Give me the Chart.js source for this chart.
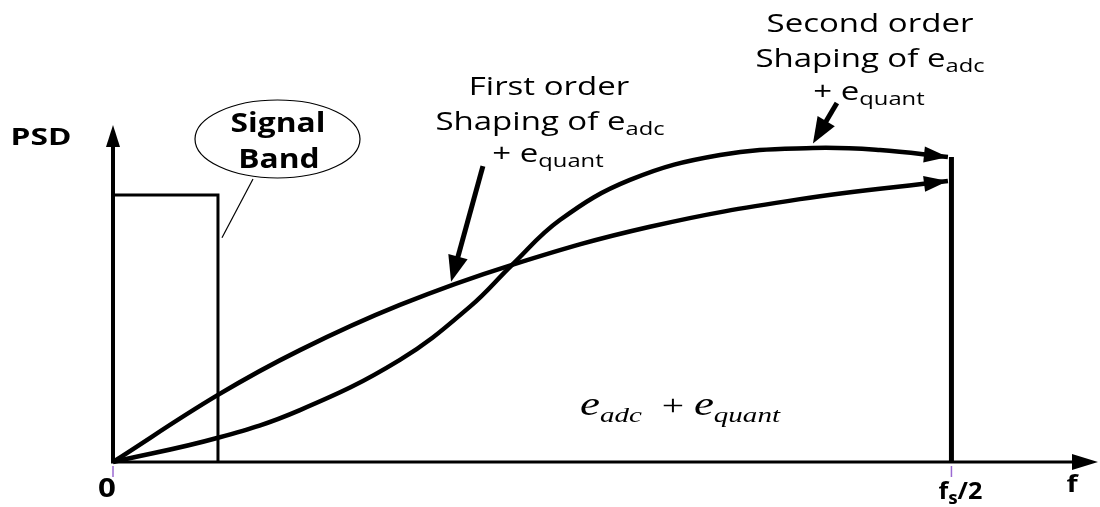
<!DOCTYPE html>
<html>
<head>
<meta charset="utf-8">
<script src="https://cdn.jsdelivr.net/npm/chart.js@4"></script>
<style>
  html, body { margin: 0; padding: 0; background: #fff; }
  #wrap { width: 1100px; height: 507px; position: relative; }
</style>
</head>
<body>
<div id="wrap"><canvas id="psdChart"></canvas></div>
<script>
// normalised frequency f/fs, PSD in arbitrary units (1 = top of the PSD axis)
const freqFirst  = [0, 0.0626, 0.1115, 0.1711, 0.2380, 0.3202, 0.4097, 0.4979];
const psdFirst   = [0, 0.199, 0.332, 0.466, 0.585, 0.698, 0.780, 0.834];
const freqSecond = [0, 0.0626, 0.1115, 0.1711, 0.2129, 0.2380, 0.2665, 0.3083, 0.3620, 0.4174, 0.4574, 0.4979];
const psdSecond  = [0, 0.072, 0.154, 0.303, 0.461, 0.585, 0.718, 0.837, 0.911, 0.932, 0.926, 0.905];
const bandEdge = 0.0626, bandLevel = 0.792;
const nyquist = 0.5, nyquistLevel = 0.905;
// callout arrows: [f, psd] tail -> head
const calloutFirst  = [[0.2206, 0.878], [0.2016, 0.535]];
const calloutSecond = [[0.4317, 1.065], [0.4174, 0.945]];

const pts = (xs, ys) => xs.map((x, i) => ({ x: x, y: ys[i] }));

function arrowHead(ctx, x0, y0, x1, y1, len, half) {
  const a = Math.atan2(y1 - y0, x1 - x0);
  ctx.beginPath();
  ctx.moveTo(x1, y1);
  ctx.lineTo(x1 - len * Math.cos(a) + half * Math.sin(a), y1 - len * Math.sin(a) - half * Math.cos(a));
  ctx.lineTo(x1 - len * Math.cos(a) - half * Math.sin(a), y1 - len * Math.sin(a) + half * Math.cos(a));
  ctx.closePath();
  ctx.fill();
}

// draws a centred line made of runs [text, font, dy], stretched sideways by sx
function textRuns(ctx, parts, cx, y, sx) {
  sx = sx || 1.32;
  let w = 0;
  parts.forEach(p => { ctx.font = p[1]; w += ctx.measureText(p[0]).width; });
  ctx.save();
  ctx.translate(cx, y);
  ctx.scale(sx, 1);
  let x = -w / 2;
  parts.forEach(p => {
    ctx.font = p[1];
    ctx.fillText(p[0], x, p[2]);
    x += ctx.measureText(p[0]).width;
  });
  ctx.restore();
}

const sans = '25px "Open Sans"', sansSub = '18px "Open Sans"';
const bold = 'bold 24px "Open Sans"';

const diagram = {
  id: 'diagram',
  afterDatasetsDraw(chart) {
    const ctx = chart.ctx, xs = chart.scales.x, ys = chart.scales.y;
    const x0 = xs.getPixelForValue(0), y0 = ys.getPixelForValue(0);
    const px = p => [xs.getPixelForValue(p[0]), ys.getPixelForValue(p[1])];
    ctx.save();
    ctx.fillStyle = '#000';
    ctx.strokeStyle = '#000';

    // axes
    ctx.lineWidth = 3;
    ctx.beginPath(); ctx.moveTo(x0 - 2, y0); ctx.lineTo(chart.chartArea.right - 20, y0); ctx.stroke();
    arrowHead(ctx, x0, y0, chart.chartArea.right, y0, 26, 8);
    ctx.lineWidth = 4;
    ctx.beginPath(); ctx.moveTo(x0, y0 + 1); ctx.lineTo(x0, chart.chartArea.top + 18); ctx.stroke();
    arrowHead(ctx, x0, y0, x0, chart.chartArea.top, 22, 7);

    // tick marks
    ctx.strokeStyle = '#9b6ad2';
    ctx.lineWidth = 1.5;
    [0, nyquist].forEach(f => {
      const x = xs.getPixelForValue(f);
      ctx.beginPath(); ctx.moveTo(x, y0 + 4); ctx.lineTo(x, y0 + 15); ctx.stroke();
    });
    ctx.strokeStyle = '#000';

    // arrowheads on the curve ends
    [0, 1].forEach(i => {
      const d = chart.getDatasetMeta(i).data, n = d.length;
      arrowHead(ctx, d[n - 2].x, d[n - 2].y, d[n - 1].x, d[n - 1].y, 24, 8);
    });

    // callout arrows
    ctx.lineWidth = 5;
    [calloutFirst, calloutSecond].forEach(c => {
      const a = px(c[0]), b = px(c[1]);
      const ang = Math.atan2(b[1] - a[1], b[0] - a[0]);
      ctx.beginPath(); ctx.moveTo(a[0], a[1]);
      ctx.lineTo(b[0] - 18 * Math.cos(ang), b[1] - 18 * Math.sin(ang)); ctx.stroke();
      arrowHead(ctx, a[0], a[1], b[0], b[1], 26, 10);
    });

    // signal band bubble
    ctx.lineWidth = 1.2;
    ctx.beginPath(); ctx.ellipse(277.5, 139, 82.5, 39, 0, 0, Math.PI * 2); ctx.stroke();
    const band = px([bandEdge, bandLevel * 0.84]);
    ctx.beginPath(); ctx.moveTo(253, 179); ctx.lineTo(band[0] + 4, band[1]); ctx.stroke();

    ctx.textBaseline = 'alphabetic';
    const bb = 'bold 26px "Open Sans"';
    textRuns(ctx, [['Signal', bb, 0]], 278, 132, 1.22);
    textRuns(ctx, [['Band', bb, 0]], 279, 168, 1.22);

    // axis labels
    textRuns(ctx, [['PSD', bold, 0]], 41, 145);
    textRuns(ctx, [['0', 'bold 26px "Open Sans"', 0]], x0 - 6, 497, 1.2);
    textRuns(ctx, [['f', bold, 0], ['s', 'bold 18px "Open Sans"', 5], ['/2', bold, 0]], xs.getPixelForValue(nyquist) + 9, 499, 1.05);
    textRuns(ctx, [['f', bold, 0]], 1072, 492, 1.2);

    // curve captions
    textRuns(ctx, [['First order', sans, 0]], 549, 95);
    textRuns(ctx, [['Shaping of e', sans, 0], ['adc', sansSub, 5]], 550, 130);
    textRuns(ctx, [['+ e', sans, 0], ['quant', sansSub, 5]], 548, 162);
    textRuns(ctx, [['Second order', sans, 0]], 870, 32);
    textRuns(ctx, [['Shaping of e', sans, 0], ['adc', sansSub, 5]], 870, 67);
    textRuns(ctx, [['+ e', sans, 0], ['quant', sansSub, 5]], 869, 100);

    // total error term
    const it = 'italic 34px "Liberation Serif"', itSub = 'italic 22px "Liberation Serif"';
    textRuns(ctx, [['e', it, 0], ['adc', itSub, 7], ['  + ', '30px "Liberation Serif"', 0], ['e', it, 0], ['quant', itSub, 7]], 680, 415);
    ctx.restore();
  }
};

const curve = { showLine: true, borderColor: '#000', borderWidth: 4.5, tension: 0.4, pointRadius: 0, clip: false };
const edge = { showLine: true, borderColor: '#000', tension: 0, pointRadius: 0, clip: false };

new Chart(document.getElementById('psdChart'), {
  type: 'scatter',
  data: {
    datasets: [
      Object.assign({ label: 'First order', data: pts(freqFirst, psdFirst) }, curve),
      Object.assign({ label: 'Second order', data: pts(freqSecond, psdSecond) }, curve),
      Object.assign({ label: 'Signal band', borderWidth: 3,
        data: [{ x: 0, y: 0 }, { x: 0, y: bandLevel }, { x: bandEdge, y: bandLevel }, { x: bandEdge, y: 0 }] }, edge),
      Object.assign({ label: 'fs/2', borderWidth: 5,
        data: [{ x: nyquist, y: 0 }, { x: nyquist, y: nyquistLevel }] }, edge)
    ]
  },
  options: {
    responsive: true,
    maintainAspectRatio: false,
    animation: false,
    layout: { padding: { left: 113, right: 2, top: 125, bottom: 45 } },
    scales: {
      x: { type: 'linear', min: 0, max: 0.5874, display: false },
      y: { min: 0, max: 1, display: false }
    },
    plugins: { legend: { display: false }, tooltip: { enabled: false } }
  },
  plugins: [diagram]
});
</script>
</body>
</html>
